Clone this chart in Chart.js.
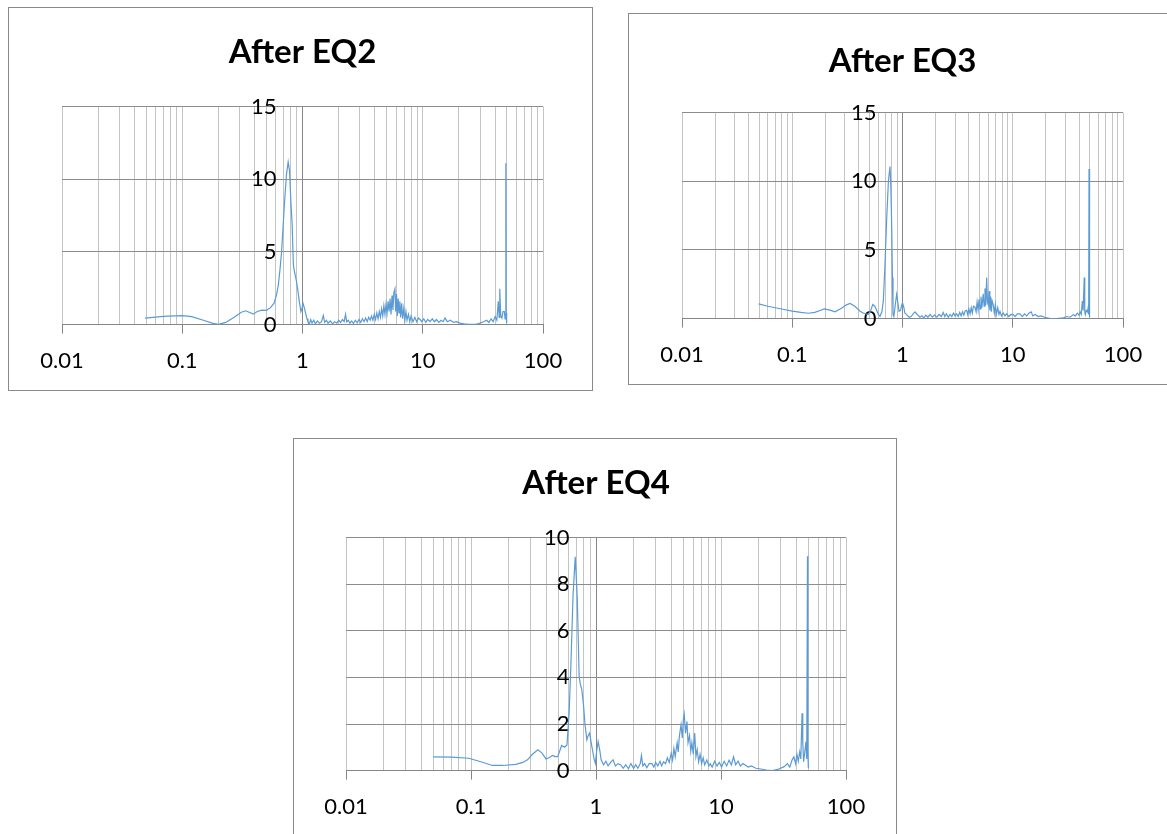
<!DOCTYPE html>
<html>
<head>
<meta charset="utf-8">
<script src="https://cdn.jsdelivr.net/npm/chart.js@4.4.1/dist/chart.umd.min.js"></script>
<style>
  body { margin: 0; background: #fff; overflow: hidden; width: 1167px; height: 834px; position: relative; }
  .box { position: absolute; border: 1px solid #8a8a8a; background: #fff; }
  .box canvas { display: block; }
</style>
</head>
<body>
<div class="box" style="left:8px; top:7px; width:583px; height:382px;"><canvas id="eq2" width="583" height="382"></canvas></div>
<div class="box" style="left:628px; top:13px; width:560px; height:370px;"><canvas id="eq3" width="560" height="370"></canvas></div>
<div class="box" style="left:293px; top:438px; width:602px; height:400px;"><canvas id="eq4" width="602" height="400"></canvas></div>
<script>
// x axis (frequency, log) ticks
const xDecades = [0.01, 0.1, 1, 10, 100];
const xTickLabels = ["0.01", "0.1", "1", "10", "100"];
const minorSteps = [2, 3, 4, 5, 6, 7, 8, 9];

// [frequency, amplitude]
const eq2Points = [
  [0.049,0.45],[0.06,0.52],[0.075,0.58],[0.1,0.62],[0.12,0.55],[0.15,0.3],[0.18,0.08],[0.2,0.02],[0.23,0.15],[0.27,0.5],
  [0.31,0.85],[0.337,0.95],[0.36,0.85],[0.39,0.72],[0.42,0.9],[0.46,1.0],[0.5,0.98],[0.54,1.15],[0.58,1.47],[0.61,2.1],
  [0.63,2.74],[0.65,3.8],[0.67,5.0],[0.69,6.8],[0.71,8.5],[0.735,10.3],[0.76,11.2],[0.78,10.6],[0.8,8.5],[0.82,6.9],
  [0.84,4.1],[0.86,3.6],[0.89,3.0],[0.92,2.2],[0.94,1.6],[0.97,0.9],[0.99,1.1],[1.01,1.47],[1.04,1.1],[1.06,0.8],
  [1.09,0.4],[1.11,0.2],[1.14,0.05],[1.17,0.35],[1.2,0.1],[1.24,0.3],[1.28,0.05],[1.33,0.25],[1.38,0.1],[1.44,0.2],
  [1.49,0.62],[1.53,0.15],[1.58,0.3],[1.63,0.1],[1.7,0.25],[1.78,0.05],[1.85,0.2],[1.93,0.1],[2.0,0.3],[2.07,0.15],
  [2.15,0.35],[2.22,0.2],[2.28,0.71],[2.33,0.2],[2.4,0.3],[2.48,0.1],[2.56,0.25],[2.65,0.08],[2.75,0.3],[2.85,0.12],
  [2.95,0.35],[3.05,0.15],[3.15,0.4],[3.25,0.2],[3.35,0.45],[3.45,0.2],[3.55,0.5],[3.65,0.3],[3.75,0.6],[3.85,0.3],
  [3.95,0.7],[4.05,0.35],[4.15,0.8],[4.25,0.4],[4.35,0.9],[4.45,0.5],[4.55,1.1],[4.65,0.6],[4.75,1.3],[4.85,0.7],
  [4.95,1.4],[5.05,0.8],[5.15,1.6],[5.25,0.9],[5.35,1.8],[5.45,0.7],[5.55,2.0],[5.65,1.0],[5.75,2.2],[5.87,2.46],
  [5.95,0.9],[6.05,2.1],[6.15,0.6],[6.25,1.8],[6.35,0.8],[6.45,1.6],[6.55,0.5],[6.68,1.47],[6.8,0.4],[6.95,1.1],
  [7.1,0.3],[7.25,0.9],[7.4,0.3],[7.6,0.7],[7.8,0.2],[8.0,0.6],[8.3,0.2],[8.6,0.5],[8.9,0.2],[9.2,0.45],
  [9.5,0.35],[9.8,0.2],[10.2,0.4],[10.6,0.15],[11.0,0.35],[11.5,0.2],[12.0,0.4],[12.5,0.2],[13.0,0.35],[13.6,0.15],
  [14.2,0.3],[14.8,0.2],[15.3,0.45],[16.0,0.2],[17.0,0.3],[18.0,0.15],[19.0,0.2],[20.4,0.1],[22,0.05],[24,0.02],
  [26,0.02],[28,0.04],[30,0.1],[32,0.2],[34,0.3],[35.5,0.15],[37,0.4],[38.5,0.2],[40,0.55],[41.3,0.3],
  [42.5,1.6],[43.2,0.5],[43.7,2.46],[44.5,0.6],[45.5,0.45],[46.5,0.9],[47.7,0.9],[48.4,0.4],[49.0,1.5],[49.2,11.1],
  [49.4,0.8],[49.7,0.3],[50,0.1]
];

const eq3Points = [
  [0.0496,1.07],[0.06,0.9],[0.08,0.7],[0.1,0.55],[0.12,0.45],[0.14,0.39],[0.16,0.45],[0.179,0.59],[0.195,0.7],[0.22,0.62],
  [0.244,0.49],[0.28,0.75],[0.31,1.0],[0.334,1.1],[0.37,0.9],[0.41,0.55],[0.44,0.41],[0.49,0.29],[0.515,0.6],[0.537,1.03],
  [0.56,0.9],[0.58,0.66],[0.6,0.35],[0.625,0.17],[0.65,0.5],[0.67,1.27],[0.69,3.5],[0.72,7.4],[0.745,10.0],[0.77,11.07],
  [0.785,9.5],[0.8,6.2],[0.81,3.0],[0.82,0.29],[0.835,0.15],[0.86,1.0],[0.885,1.76],[0.91,1.1],[0.93,0.54],[0.96,0.6],
  [0.98,0.95],[1.0,1.15],[1.03,0.8],[1.05,0.41],[1.1,0.25],[1.15,0.1],[1.2,0.15],[1.25,0.35],[1.3,0.49],[1.36,0.3],
  [1.44,0.1],[1.5,0.2],[1.56,0.05],[1.63,0.25],[1.7,0.1],[1.78,0.3],[1.86,0.1],[1.95,0.25],[2.05,0.1],[2.15,0.3],
  [2.25,0.15],[2.34,0.44],[2.42,0.15],[2.5,0.35],[2.6,0.1],[2.7,0.3],[2.8,0.15],[2.9,0.4],[3.0,0.2],[3.1,0.35],
  [3.2,0.15],[3.3,0.45],[3.4,0.2],[3.5,0.5],[3.6,0.25],[3.7,0.55],[3.82,0.6],[3.9,0.3],[4.0,0.7],[4.1,0.35],
  [4.2,0.8],[4.3,0.4],[4.4,0.9],[4.54,0.83],[4.65,0.5],[4.75,1.2],[4.85,0.6],[4.95,1.4],[5.05,0.7],[5.15,1.6],
  [5.25,0.8],[5.4,1.81],[5.5,0.9],[5.6,2.2],[5.7,1.0],[5.8,2.99],[5.9,1.2],[6.0,1.0],[6.1,2.0],[6.2,0.6],
  [6.3,1.6],[6.4,0.5],[6.5,1.3],[6.66,1.0],[6.8,0.4],[6.95,1.0],[7.1,0.3],[7.3,0.8],[7.5,0.3],[7.66,0.52],
  [7.9,0.2],[8.2,0.4],[8.5,0.2],[8.8,0.35],[9.2,0.15],[9.6,0.3],[10.1,0.29],[10.5,0.15],[11.0,0.35],[11.6,0.34],
  [12.2,0.15],[12.8,0.35],[13.4,0.2],[14.0,0.4],[14.7,0.49],[15.2,0.2],[16.0,0.3],[17.0,0.15],[18.0,0.2],[19.5,0.1],
  [21.8,0.0],[25,0.0],[28.8,0.05],[31,0.15],[33,0.1],[35.5,0.29],[37,0.2],[38.5,0.4],[40,0.25],[40.8,0.49],
  [41.8,0.3],[42.8,1.27],[43.5,0.6],[44.5,3.0],[45,0.5],[45.5,0.29],[46.5,0.6],[47.6,0.5],[48.3,0.8],[48.8,0.3],
  [49.2,10.9],[49.5,0.6],[50,0.1]
];

const eq4Points = [
  [0.0499,0.59],[0.07,0.58],[0.096,0.53],[0.12,0.38],[0.148,0.22],[0.18,0.22],[0.228,0.27],[0.26,0.35],[0.283,0.46],[0.31,0.7],
  [0.343,0.89],[0.37,0.75],[0.398,0.5],[0.42,0.55],[0.45,0.65],[0.47,0.6],[0.494,0.6],[0.531,1.08],[0.56,1.0],[0.586,1.1],
  [0.61,2.5],[0.63,4.56],[0.655,7.5],[0.682,9.18],[0.708,7.43],[0.733,4.05],[0.75,3.7],[0.77,3.48],[0.795,2.8],[0.817,1.97],
  [0.845,1.32],[0.865,1.5],[0.889,1.61],[0.915,1.2],[0.942,0.82],[0.965,0.5],[0.989,0.31],[1.01,0.8],[1.04,1.25],[1.07,0.9],
  [1.1,0.46],[1.15,0.25],[1.2,0.4],[1.25,0.2],[1.31,0.35],[1.37,0.46],[1.43,0.2],[1.5,0.3],[1.58,0.24],[1.65,0.1],
  [1.73,0.25],[1.82,0.08],[1.9,0.3],[2.0,0.1],[2.08,0.25],[2.16,0.1],[2.26,0.3],[2.31,0.65],[2.37,0.2],[2.45,0.3],
  [2.55,0.12],[2.66,0.3],[2.8,0.3],[2.9,0.15],[3.0,0.35],[3.12,0.2],[3.25,0.4],[3.35,0.2],[3.47,0.38],[3.6,0.3],
  [3.72,0.55],[3.85,0.35],[4.0,0.75],[4.1,0.45],[4.2,0.95],[4.3,0.6],[4.46,1.19],[4.55,0.8],[4.65,1.5],[4.79,1.97],
  [4.9,1.4],[5.0,2.2],[5.08,2.43],[5.2,1.6],[5.34,2.11],[5.45,1.2],[5.6,1.5],[5.73,0.82],[5.85,1.2],[6.0,0.7],
  [6.16,1.61],[6.3,0.6],[6.45,0.9],[6.62,0.38],[6.8,0.7],[7.0,0.3],[7.2,0.55],[7.4,0.25],[7.7,0.45],[8.0,0.2],
  [8.2,0.3],[8.5,0.15],[8.9,0.4],[9.3,0.2],[9.7,0.35],[10.1,0.15],[10.6,0.4],[11.1,0.2],[11.6,0.45],[12.1,0.25],
  [12.6,0.59],[13.1,0.25],[13.7,0.4],[14.3,0.2],[15.0,0.3],[15.6,0.24],[16.5,0.15],[17.5,0.2],[19,0.1],[20.8,0.07],
  [23,0.02],[25.8,0.0],[28.5,0.05],[32,0.17],[34,0.3],[35.5,0.15],[37,0.45],[38.3,0.59],[39.5,0.3],[40.5,0.7],
  [41.5,0.4],[42.6,0.8],[43.5,0.5],[44.5,2.46],[45.1,1.2],[45.8,0.38],[46.8,0.8],[47.8,1.24],[48.5,0.5],[49.2,9.2],
  [49.5,0.8],[50,0.1]
];

const xTickValues = [];
for (let i = 0; i < xDecades.length - 1; i++) {
  xTickValues.push(xDecades[i]);
  minorSteps.forEach((m) => xTickValues.push(parseFloat((xDecades[i] * m).toPrecision(6))));
}
xTickValues.push(xDecades[xDecades.length - 1]);

const decadeIndex = (v) => xDecades.findIndex((d) => Math.abs(d - v) < d * 1e-6);

// the value axis crosses at x = 1; its labels sit a little to the left of it
const makeChart = (id, title, points, yMax, yStep, labelAt, pad, titlePad) => {
  new Chart(document.getElementById(id), {
    type: "line",
    data: {
      datasets: [
        {
          data: points.map(([x, y]) => ({ x, y })),
          borderColor: "#5b9bd5",
          borderWidth: 1.2,
          pointRadius: 0,
          tension: 0,
          fill: false,
        },
      ],
    },
    options: {
      responsive: false,
      animation: false,
      layout: { padding: pad },
      plugins: {
        legend: { display: false },
        tooltip: { enabled: false },
        title: {
          display: true,
          text: title,
          color: "#000",
          font: { family: "Lato", size: 33, weight: "bold" },
          padding: titlePad,
        },
      },
      scales: {
        x: {
          type: "logarithmic",
          position: "bottom",
          min: 0.01,
          max: 100,
          afterBuildTicks: (scale) => {
            scale.ticks = xTickValues.map((v) => ({ value: v, major: decadeIndex(v) >= 0 }));
          },
          ticks: {
            autoSkip: false,
            maxRotation: 0,
            minRotation: 0,
            padding: 14,
            color: "#000",
            font: { family: "Lato", size: 22 },
            callback: (value) => {
              const i = decadeIndex(value);
              return i >= 0 ? xTickLabels[i] : "";
            },
          },
          grid: {
            color: (ctx) => (ctx.tick && Math.abs(ctx.tick.value - 1) < 1e-9 ? "#868686" : "#c4c4c4"),
            lineWidth: 1,
            tickLength: 9,
            tickColor: (ctx) => (ctx.tick && decadeIndex(ctx.tick.value) >= 0 ? "#868686" : "rgba(0,0,0,0)"),
          },
          border: { color: "#868686", width: 1 },
        },
        y: {
          position: { x: labelAt },
          min: 0,
          max: yMax,
          ticks: {
            stepSize: yStep,
            color: "#000",
            font: { family: "Lato", size: 22 },
          },
          grid: { color: "#8c8c8c", lineWidth: 1, drawTicks: false },
          border: { display: false },
        },
      },
    },
  });
};

makeChart("eq2", "After EQ2", eq2Points, 15, 5, 0.608,
  { top: 0, left: 53, right: 49, bottom: 2 }, { top: 25, bottom: 34 });
makeChart("eq3", "After EQ3", eq3Points, 15, 5, 0.581,
  { top: 0, left: 53, right: 66, bottom: 2 }, { top: 28, bottom: 31 });
makeChart("eq4", "After EQ4", eq4Points, 10, 2, 0.614,
  { top: 0, left: 52, right: 50, bottom: 5 }, { top: 25, bottom: 34 });
</script>
</body>
</html>
